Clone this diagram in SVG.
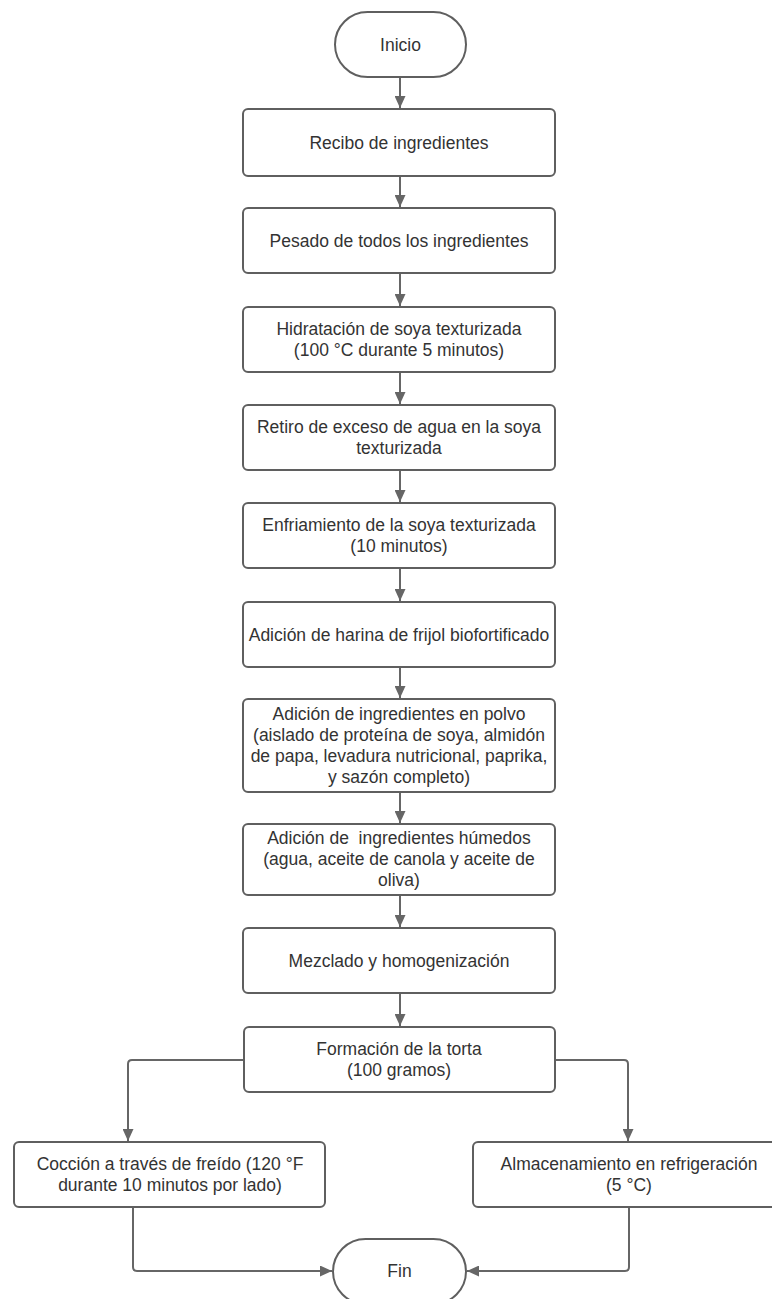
<svg xmlns="http://www.w3.org/2000/svg" width="772" height="1299" viewBox="0 0 772 1299">
<defs>
<style>
.box{fill:#ffffff;stroke:#5f5f5f;stroke-width:2}
.t{font-family:"Liberation Sans",Arial,sans-serif;font-size:17.5px;fill:#333333;text-anchor:middle}
.c{fill:none;stroke:#666666;stroke-width:2;marker-end:url(#ah)}
</style>
<marker id="ah" markerUnits="userSpaceOnUse" markerWidth="12" markerHeight="11" viewBox="0 0 12 11" refX="12" refY="5.5" orient="auto">
<path d="M0,0 L12,5.5 L0,11 z" fill="#666666"/>
</marker>
</defs>
<rect width="772" height="1299" fill="#ffffff"/>
<g id="connectors">
<path class="c" d="M400,77 V108"/>
<path class="c" d="M400,176 V207"/>
<path class="c" d="M400,273 V306"/>
<path class="c" d="M400,372 V404"/>
<path class="c" d="M400,470 V502"/>
<path class="c" d="M400,568 V601"/>
<path class="c" d="M400,667 V698"/>
<path class="c" d="M400,792 V823"/>
<path class="c" d="M400,895 V927"/>
<path class="c" d="M400,993 V1026"/>
<path class="c" d="M244,1060 H132 Q128,1060 128,1064 V1141"/>
<path class="c" d="M555,1060 H624 Q628,1060 628,1064 V1141"/>
<path class="c" d="M133,1207 V1267 Q133,1271 137,1271 H332"/>
<path class="c" d="M629,1207 V1267 Q629,1271 625,1271 H467"/>
</g>
<g id="n-inicio">
<rect class="box" x="335" y="12" width="131" height="65" rx="32.5"/>
<text class="t" x="400.5" y="50.5">Inicio</text>
</g>
<g id="n-recibo">
<rect class="box" x="243" y="109" width="312" height="67" rx="5"/>
<text class="t" x="399" y="148.5">Recibo de ingredientes</text>
</g>
<g id="n-pesado">
<rect class="box" x="243" y="208" width="312" height="65" rx="5"/>
<text class="t" x="399" y="246.5">Pesado de todos los ingredientes</text>
</g>
<g id="n-hidratacion">
<rect class="box" x="243" y="307" width="312" height="65" rx="5"/>
<text class="t" x="399" y="335">Hidratación de soya texturizada</text>
<text class="t" x="399" y="356">(100 °C durante 5 minutos)</text>
</g>
<g id="n-retiro">
<rect class="box" x="243" y="405" width="312" height="65" rx="5"/>
<text class="t" x="399" y="433">Retiro de exceso de agua en la soya</text>
<text class="t" x="399" y="454">texturizada</text>
</g>
<g id="n-enfriamiento">
<rect class="box" x="243" y="503" width="312" height="65" rx="5"/>
<text class="t" x="399" y="531">Enfriamiento de la soya texturizada</text>
<text class="t" x="399" y="552">(10 minutos)</text>
</g>
<g id="n-harina">
<rect class="box" x="243" y="602" width="312" height="65" rx="5"/>
<text class="t" x="399" y="640.5">Adición de harina de frijol biofortificado</text>
</g>
<g id="n-polvo">
<rect class="box" x="243" y="699" width="312" height="93" rx="5"/>
<text class="t" x="399" y="720">Adición de ingredientes en polvo</text>
<text class="t" x="399" y="741">(aislado de proteína de soya, almidón</text>
<text class="t" x="399" y="762">de papa, levadura nutricional, paprika,</text>
<text class="t" x="399" y="783">y sazón completo)</text>
</g>
<g id="n-humedos">
<rect class="box" x="243" y="824" width="312" height="71" rx="5"/>
<text class="t" x="399" y="844" xml:space="preserve">Adición de  ingredientes húmedos</text>
<text class="t" x="399" y="865">(agua, aceite de canola y aceite de</text>
<text class="t" x="399" y="886">oliva)</text>
</g>
<g id="n-mezclado">
<rect class="box" x="243" y="928" width="312" height="65" rx="5"/>
<text class="t" x="399" y="966.5">Mezclado y homogenización</text>
</g>
<g id="n-formacion">
<rect class="box" x="244" y="1027" width="311" height="65" rx="5"/>
<text class="t" x="399" y="1055">Formación de la torta</text>
<text class="t" x="399" y="1076">(100 gramos)</text>
</g>
<g id="n-coccion">
<rect class="box" x="14" y="1142" width="311" height="65" rx="5"/>
<text class="t" x="170" y="1170">Cocción a través de freído (120 °F</text>
<text class="t" x="170" y="1191">durante 10 minutos por lado)</text>
</g>
<g id="n-almacenamiento">
<rect class="box" x="473" y="1142" width="312" height="65" rx="5"/>
<text class="t" x="629" y="1170">Almacenamiento en refrigeración</text>
<text class="t" x="629" y="1191">(5 °C)</text>
</g>
<g id="n-fin">
<rect class="box" x="333" y="1239" width="133" height="65" rx="32.5"/>
<text class="t" x="399.5" y="1277">Fin</text>
</g>
</svg>
